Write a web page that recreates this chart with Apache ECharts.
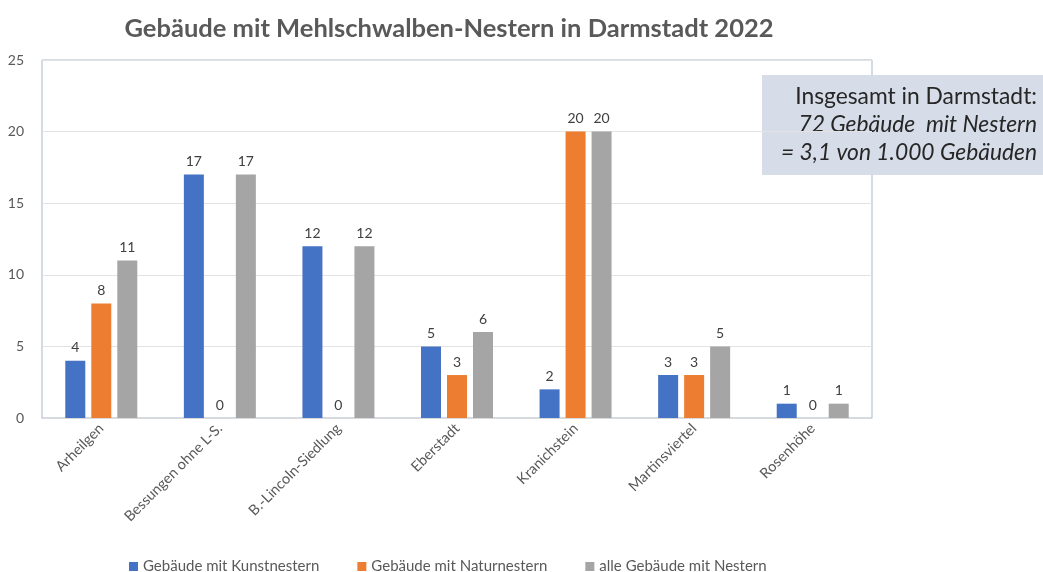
<!DOCTYPE html>
<html><head><meta charset="utf-8">
<script src="https://cdn.jsdelivr.net/npm/echarts@6/dist/echarts.min.js"></script>
<style>html,body{margin:0;padding:0;background:#fff}#c{width:1043px;height:572px}</style>
</head><body><div id="c"></div>
<script>
const categories = ["Arheilgen","Bessungen ohne L-S.","B.-Lincoln-Siedlung","Eberstadt","Kranichstein","Martinsviertel","Rosenhöhe"];
const seriesNames = ["Gebäude mit Kunstnestern","Gebäude mit Naturnestern","alle Gebäude mit Nestern"];
const kunst = [4,17,12,5,2,3,1];
const natur = [8,0,0,3,20,3,0];
const alle = [11,17,12,6,20,5,1];
const colors = ["#4472c4","#ed7d31","#a5a5a5"];
const font = "Lato, 'Noto Sans', sans-serif";
const chart = echarts.init(document.getElementById('c'));
const mk = (name, data, color) => ({
  name, type:'bar', data, barWidth:20, barGap:'30%',
  itemStyle:{color},
  label:{show:true, position:'top', distance:6, color:'#404040', fontSize:14, fontFamily:font}
});
chart.setOption({
  animation:false,
  color: colors,
  title:{text:"Gebäude mit Mehlschwalben-Nestern in Darmstadt 2022", left:444, top:11, textAlign:'center',
    textStyle:{fontFamily:font, fontSize:25.5, fontWeight:'bold', color:'#595959'}},
  grid:{left:42, top:60, right:171, bottom:154, show:true, borderColor:'#a9b7cb', borderWidth:1},
  legend:{top:554, left:124, itemWidth:9, itemHeight:9, itemGap:38, icon:'rect',
    textStyle:{fontFamily:font, fontSize:15, color:'#595959'}, data:seriesNames},
  xAxis:{type:'category', data:categories, axisTick:{show:false},
    axisLine:{lineStyle:{color:'#d9d9d9'}},
    axisLabel:{rotate:45, color:'#595959', fontSize:14.5, fontFamily:font, margin:8, interval:0}},
  yAxis:{type:'value', min:0, max:25, interval:5,
    axisLine:{show:false}, axisTick:{show:false},
    splitLine:{lineStyle:{color:'#e3e3e3'}},
    axisLabel:{color:'#595959', fontSize:14, fontFamily:font, margin:18}},
  series:[mk(seriesNames[0],kunst,colors[0]), mk(seriesNames[1],natur,colors[1]), mk(seriesNames[2],alle,colors[2])],
  graphic:[{type:'group', left:762, top:75, z:100, children:[
    {type:'rect', shape:{x:0,y:0,width:281,height:100}, style:{fill:'#d6dde8'}},
    {type:'text', x:275, y:10, style:{text:"Insgesamt in Darmstadt:", align:'right', verticalAlign:'top',
      font:"22.8px "+font, fill:'#262626'}},
    {type:'text', x:275, y:38, style:{text:"72 Gebäude  mit Nestern", align:'right', verticalAlign:'top',
      font:"italic 22.8px "+font, fill:'#262626'}},
    {type:'text', x:275, y:66, style:{text:"= 3,1 von 1.000 Gebäuden", align:'right', verticalAlign:'top',
      font:"italic 22.8px "+font, fill:'#262626'}}
  ]}]
});
</script></body></html>
